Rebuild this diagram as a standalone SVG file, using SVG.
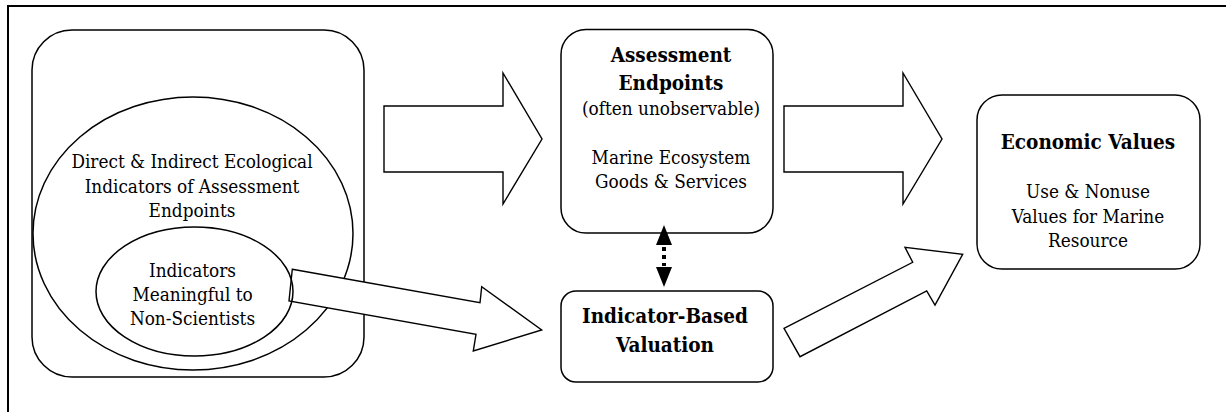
<svg xmlns="http://www.w3.org/2000/svg" width="1226" height="412" viewBox="0 0 1226 412">
<style>
.box{fill:#fff;stroke:#000;stroke-width:1.5}
.arr{fill:#fff;stroke:#000;stroke-width:1.4;stroke-linejoin:miter}
text{font-family:"DejaVu Serif Condensed","DejaVu Serif","Liberation Serif",serif;font-stretch:condensed;text-anchor:middle;fill:#000}
.t{font-size:18.8px}
.b{font-size:20.5px;font-weight:bold}
</style>
<rect width="1226" height="412" fill="#fff"/>
<g id="frame"><path d="M8 413 V6 H1227" fill="none" stroke="#000" stroke-width="2"/></g>
<g id="indicators-group">
<rect class="box" x="32" y="30" width="332" height="347" rx="40" ry="40"/>
<ellipse cx="193" cy="233.5" rx="160" ry="136.5" fill="none" stroke="#000" stroke-width="1.5"/>
<text class="t" x="192" y="168">Direct &amp; Indirect Ecological</text>
<text class="t" x="192" y="193">Indicators of Assessment</text>
<text class="t" x="192" y="217">Endpoints</text>
</g>
<g id="assessment">
<rect class="box" x="561" y="29.5" width="212" height="203.5" rx="25" ry="25"/>
<text class="b" x="671" y="62">Assessment</text>
<text class="b" x="671" y="90">Endpoints</text>
<text class="t" x="671" y="115">(often unobservable)</text>
<text class="t" x="671" y="164">Marine Ecosystem</text>
<text class="t" x="671" y="187.5">Goods &amp; Services</text>
</g>
<g id="indicator-based">
<rect class="box" x="561" y="291" width="212" height="91" rx="15" ry="15"/>
<text class="b" x="665" y="323">Indicator-Based</text>
<text class="b" x="665" y="351.5">Valuation</text>
</g>
<g id="economic">
<rect class="box" x="977" y="95" width="223" height="174" rx="25" ry="25"/>
<text class="b" x="1088" y="149">Economic Values</text>
<text class="t" x="1088" y="198">Use &amp; Nonuse</text>
<text class="t" x="1088" y="222.5">Values for Marine</text>
<text class="t" x="1088" y="247">Resource</text>
</g>
<g id="connectors">
<polygon class="arr" points="384,106 503,106 503,73 542,139 503,204 503,172 384,172"/>
<polygon class="arr" points="784,106 903,106 903,73 942,139 903,204 903,172 784,172"/>
<polygon class="arr" points="784,328.3 912.7,262.3 905,247.3 962.7,254.3 935,305 926.7,291 800,356.7"/>
<polygon class="arr" points="292.3,269.3 480,302.7 481.7,286.7 541.7,330 473.3,351 476,334.3 289,301"/>
<polygon points="664,225 672,245 656,245" fill="#000"/>
<line x1="664" y1="247" x2="664" y2="266" stroke="#000" stroke-width="4" stroke-dasharray="4 4"/>
<polygon points="664,287 672,267 656,267" fill="#000"/>
</g>
<g id="meaningful">
<ellipse cx="194.5" cy="291.5" rx="98.5" ry="64.5" fill="none" stroke="#000" stroke-width="1.5"/>
<text class="t" x="192.5" y="277">Indicators</text>
<text class="t" x="192.5" y="301">Meaningful to</text>
<text class="t" x="192.5" y="325">Non-Scientists</text>
</g>
</svg>
